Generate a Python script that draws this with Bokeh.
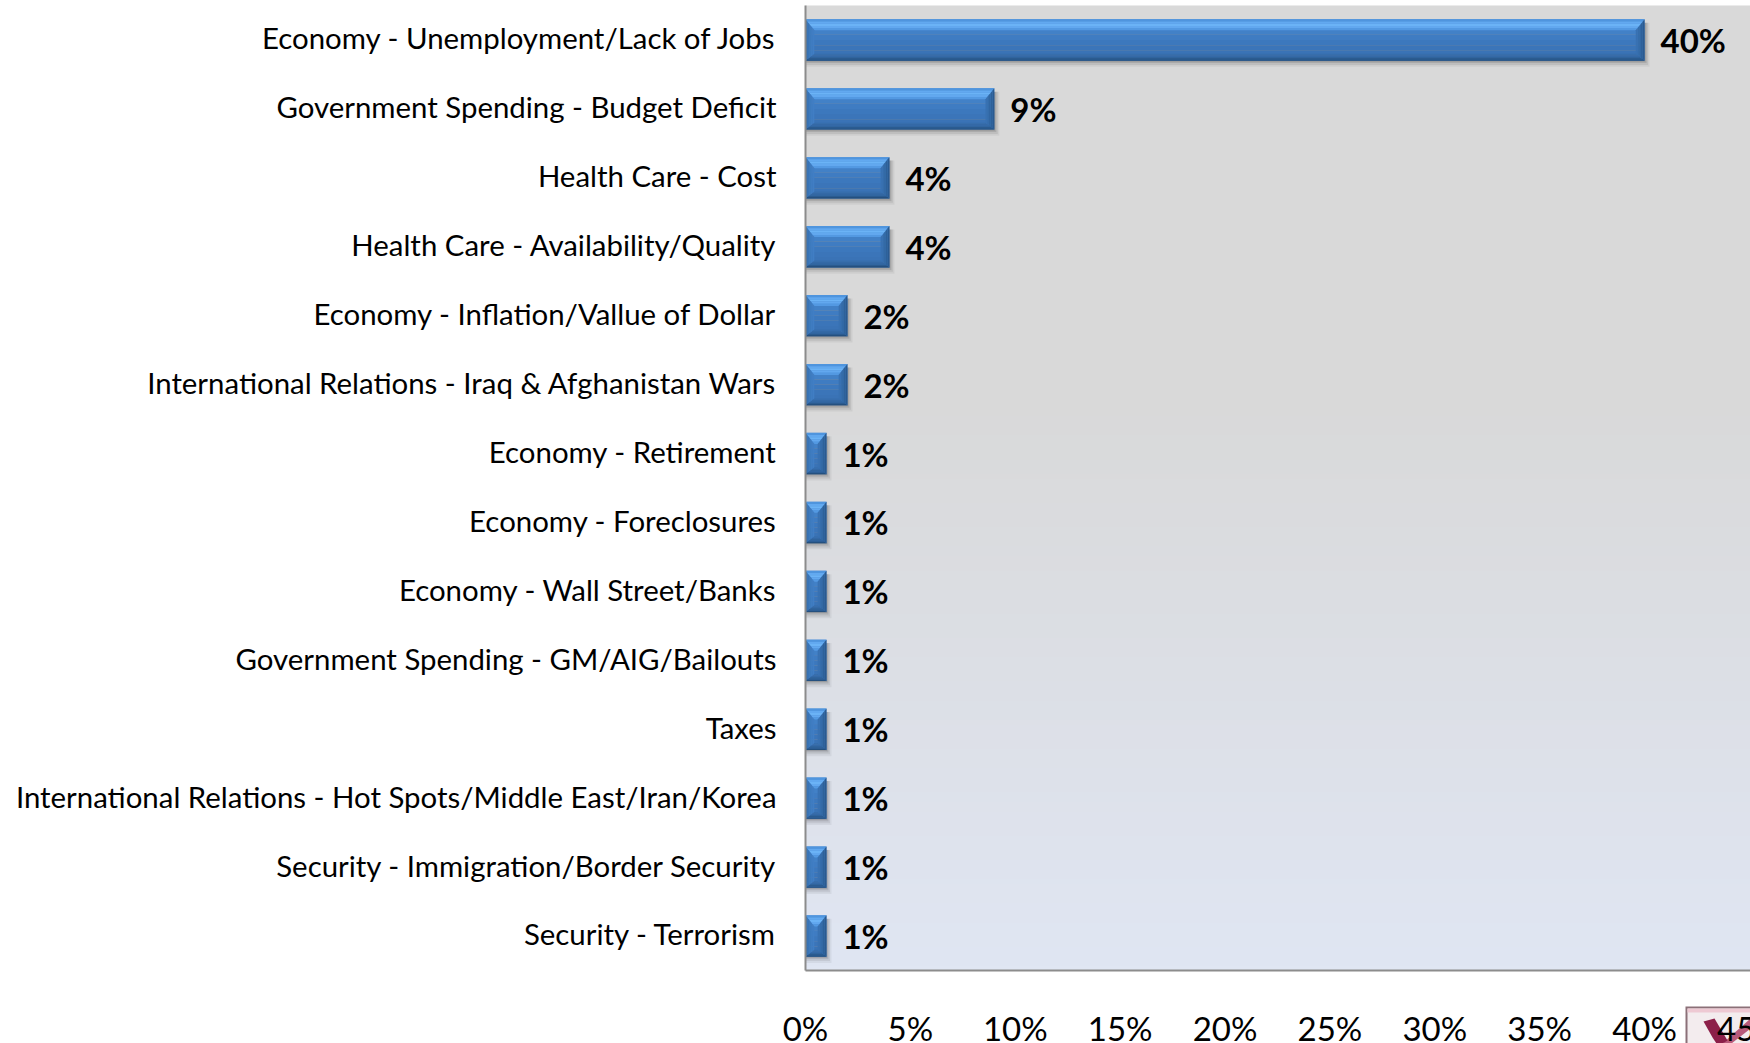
from bokeh.embed import file_html
from bokeh.models import FixedTicker, Range1d
from bokeh.plotting import figure
from bokeh.resources import INLINE
from bokeh.core.properties import value
import numpy as np

categories = [
    "Economy - Unemployment/Lack of Jobs",
    "Government Spending - Budget Deficit",
    "Health Care - Cost",
    "Health Care - Availability/Quality",
    "Economy - Inflation/Vallue of Dollar",
    "International Relations - Iraq & Afghanistan Wars",
    "Economy - Retirement",
    "Economy - Foreclosures",
    "Economy - Wall Street/Banks",
    "Government Spending - GM/AIG/Bailouts",
    "Taxes",
    "International Relations - Hot Spots/Middle East/Iran/Korea",
    "Security - Immigration/Border Security",
    "Security - Terrorism",
]
shares = [40, 9, 4, 4, 2, 2, 1, 1, 1, 1, 1, 1, 1, 1]
axis_ticks = [0, 5, 10, 15, 20, 25, 30, 35, 40]
edge_tick = 45

FONT = "Lato"
W, H = 1750, 1043
n = len(categories)
rows = [n - 1 - i for i in range(n)]
half = 0.30
xmax = 45.05

# the frame fills the page; the ranges leave room for the labels around the plot area
ORIGIN_X, AREA_TOP, AREA_BOTTOM = 805, 5, 970
px_per_x = (W - ORIGIN_X) / xmax
px_per_row = (AREA_BOTTOM - AREA_TOP) / n
x_start = -ORIGIN_X / px_per_x
y_start = -0.5 - (H - AREA_BOTTOM) / px_per_row
y_end = n - 0.5 + AREA_TOP / px_per_row


def page_x(px):
    return x_start + px / px_per_x


def page_y(py):
    return y_end - py / px_per_row


p = figure(width=W, height=H, output_backend="svg", toolbar_location=None,
           x_range=Range1d(x_start, xmax), y_range=Range1d(y_start, y_end),
           min_border_left=0, min_border_right=0, min_border_top=0, min_border_bottom=0,
           background_fill_color="#ffffff", border_fill_color="#ffffff", outline_line_color=None)
p.grid.visible = False

# plot area wash: neutral grey at the top turning pale blue towards the baseline
stops = np.linspace(0, 1, 200)
mix = np.clip((stops - 0.4) / 0.6, 0, 1)
top_c, low_c = np.array([217, 217, 217]), np.array([224, 230, 243])
wash = np.zeros((200, 1, 4), dtype=np.uint8)
for i, m in enumerate(mix):
    wash[199 - i, 0, :3] = (top_c + (low_c - top_c) * m).astype(np.uint8)
wash[:, :, 3] = 255
p.image_rgba(image=[wash.view(dtype=np.uint32).reshape(200, 1)],
             x=0, y=-0.5, dw=xmax, dh=n, level="image")

x0 = [0.0] * n
vals = np.array(shares, dtype=float)
ys = np.array(rows, dtype=float)

# soft drop shadow under and beside each bar
for grow, alpha in ((1.0, 0.05), (0.7, 0.07), (0.4, 0.10), (0.15, 0.14)):
    p.quad(left=x0, right=vals + grow * 0.24,
           top=ys + half - 0.05, bottom=ys - half - grow * 0.09,
           fill_color="#000000", fill_alpha=alpha, line_color=None)

# bar face: vertical gradient built from thin bands
face = ["#4a8cd4", "#4686cd", "#4281c7", "#3f7cc2", "#3c78bd", "#3b75b9", "#3a73b6", "#3971b3"]
edges = np.linspace(half, -half, len(face) + 1)
for col, hi, lo in zip(face, edges[:-1], edges[1:]):
    p.quad(left=x0, right=vals, top=ys + hi, bottom=ys + lo, fill_color=col, line_color=None)

# bevels on all four sides, each shaded from the outer edge inwards
bx = 0.42
by_top = 0.16
by_low = 0.10


def bevel_xs(v, t):
    inset = min(bx * t, v / 2)
    return inset, v - inset


top_cols = ["#4f95de", "#62a9f0", "#6bb3f6", "#62a8ef", "#5399e2"]
low_cols = ["#24507f", "#2b5b90", "#30649d", "#3469a6", "#376eac"]
right_cols = ["#2a5a90", "#2e6199", "#3268a3", "#356dab", "#3871b2"]
left_cols = ["#33699f", "#3a74b5", "#3d79bc", "#3f7cc1", "#407ec4"]
steps = len(top_cols)
for k in range(steps):
    a, b = k / steps, (k + 1) / steps
    spans = [bevel_xs(v, a) + bevel_xs(v, b) for v in vals]
    p.patches([[s[0], s[1], s[3], s[2]] for s in spans],
              [[y + half - by_top * a, y + half - by_top * a,
                y + half - by_top * b, y + half - by_top * b] for y in ys],
              fill_color=top_cols[k], line_color=None)
    p.patches([[s[0], s[1], s[3], s[2]] for s in spans],
              [[y - half + by_low * a, y - half + by_low * a,
                y - half + by_low * b, y - half + by_low * b] for y in ys],
              fill_color=low_cols[k], line_color=None)
    p.patches([[s[1], s[1], s[3], s[3]] for s in spans],
              [[y + half - by_top * a, y - half + by_low * a,
                y - half + by_low * b, y + half - by_top * b] for y in ys],
              fill_color=right_cols[k], line_color=None)
    p.patches([[s[0], s[0], s[2], s[2]] for s in spans],
              [[y + half - by_top * a, y - half + by_low * a,
                y - half + by_low * b, y + half - by_top * b] for y in ys],
              fill_color=left_cols[k], line_color=None)

# value labels beside the bars
p.text(x=vals, y=ys, text=[f"{v}%" for v in shares], x_offset=16, y_offset=0,
       text_font=value(FONT), text_font_style="bold", text_font_size="33px",
       text_color="#000000", text_align="left", text_baseline="middle")

# logo tucked in the lower right corner, cut off by the edge of the page
logo_parts = [
    ([1685, 1750, 1750, 1685], [1006, 1006, 1043, 1043], "#8b7078"),
    ([1687, 1750, 1750, 1687], [1008, 1008, 1043, 1043], "#f3ecee"),
    ([1687, 1750, 1750, 1687], [1008, 1008, 1012, 1012], "#eec9d3"),
    ([1722, 1750, 1750, 1731], [1043, 1018, 1028, 1043], "#b85a7a"),
    ([1703, 1714, 1727, 1722, 1716, 1712], [1021, 1018, 1040, 1043, 1043, 1037], "#8c2049"),
]
for xs, sy, col in logo_parts:
    p.patch([page_x(v) for v in xs], [page_y(v) for v in sy], fill_color=col, line_color=None)

xax = p.xaxis[0]
xax.fixed_location = -0.5
xax.bounds = (0, xmax)
xax.ticker = FixedTicker(ticks=axis_ticks)
xax.major_label_overrides = {t: f"{t}%" for t in axis_ticks}
xax.major_label_text_font = FONT
xax.major_label_text_font_size = "33px"
xax.major_label_text_color = "#000000"
xax.major_label_standoff = 37
xax.major_tick_line_color = None
xax.minor_tick_line_color = None
xax.major_tick_out = 0
xax.major_tick_in = 0
xax.minor_tick_out = 0
xax.minor_tick_in = 0
xax.axis_line_color = "#8c8c8c"
xax.axis_line_width = 2

# the last tick label runs off the page, which an axis label will not do
p.text(x=[edge_tick], y=[-0.5], text=[f"{edge_tick}%"], y_offset=57,
       text_font=value(FONT), text_font_size="33px", text_color="#000000",
       text_align="center", text_baseline="middle")

label_shift = 0.03
yax = p.yaxis[0]
yax.fixed_location = 0
yax.bounds = (-0.5, n - 0.5)
yax.ticker = FixedTicker(ticks=[r + label_shift for r in rows])
yax.major_label_overrides = {r + label_shift: c for r, c in zip(rows, categories)}
yax.major_label_text_font = FONT
yax.major_label_text_font_size = "29.4px"
yax.major_label_text_color = "#000000"
yax.major_label_standoff = 29
yax.major_tick_line_color = None
yax.minor_tick_line_color = None
yax.major_tick_out = 0
yax.major_tick_in = 0
yax.minor_tick_out = 0
yax.minor_tick_in = 0
yax.axis_line_color = "#8c8c8c"
yax.axis_line_width = 2

open("out.html", "w").write(file_html(p, INLINE))
